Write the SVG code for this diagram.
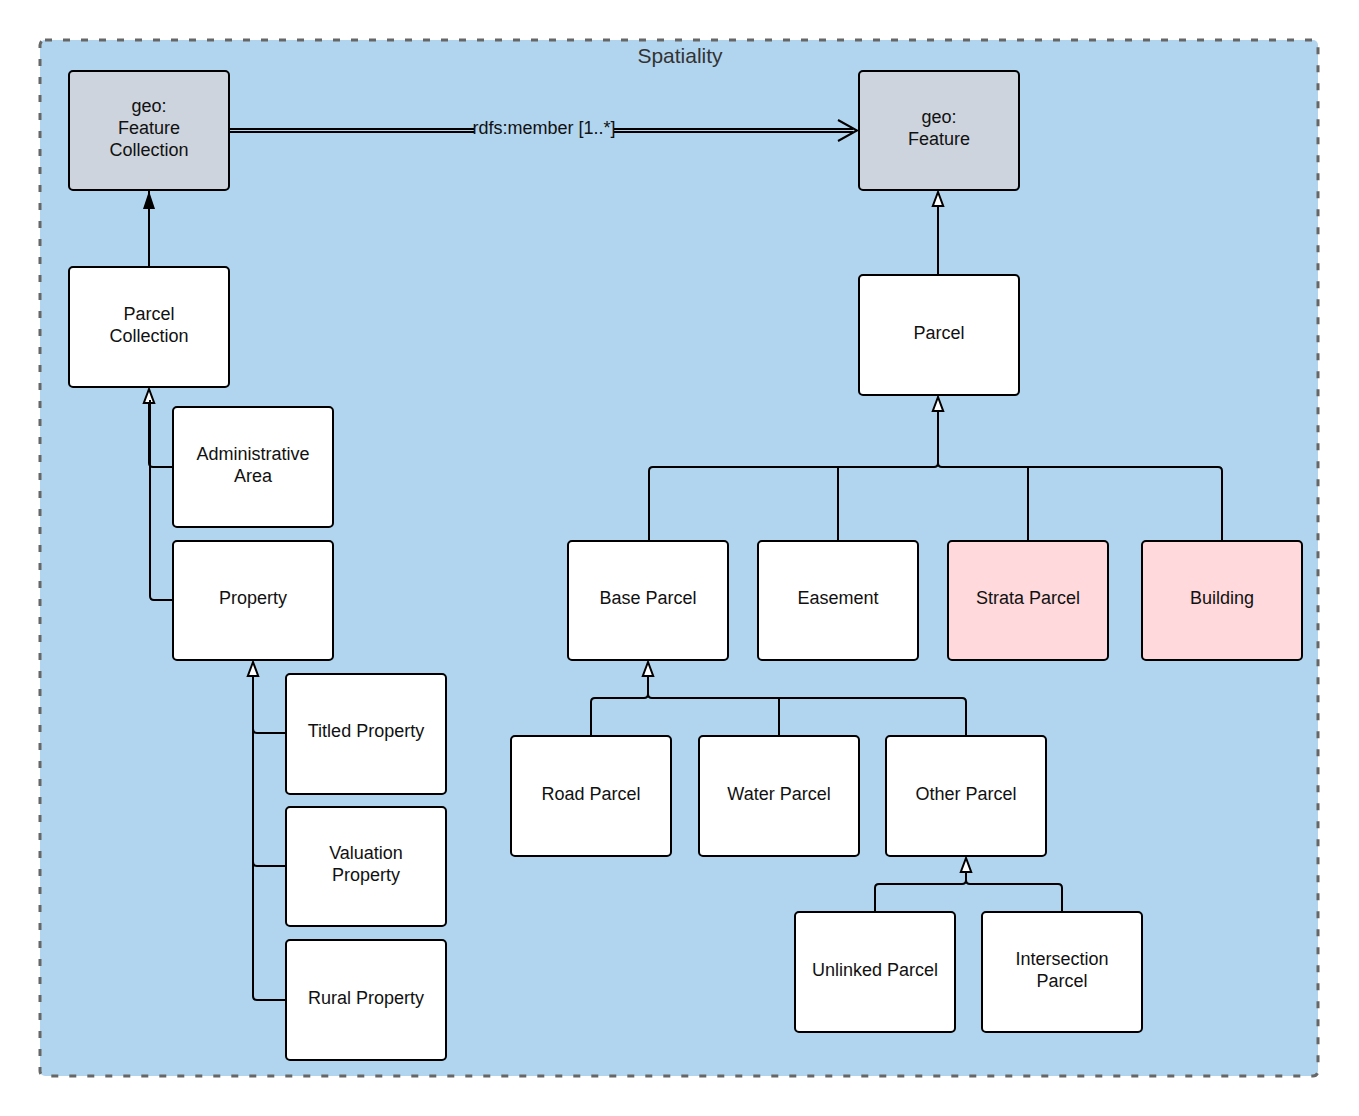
<svg xmlns="http://www.w3.org/2000/svg" width="1359" height="1116" viewBox="0 0 1359 1116">
<defs>
<style>
.node rect{stroke:#000;stroke-width:2;fill:#fff}
.node.geo rect{fill:#cdd4dd}
.node.pink rect{fill:#ffd9dc}
text{font-family:"Liberation Sans",Arial,sans-serif;font-size:18px;fill:#111;text-anchor:middle}
.conn path{fill:none;stroke:#000;stroke-width:2}
</style>
<marker id="hollow" markerWidth="18" markerHeight="14" refX="16" refY="7" orient="auto" markerUnits="userSpaceOnUse" viewBox="0 0 18 14">
<path d="M16 7 L2 1.8 L2 12.2 Z" fill="#fff" stroke="#000" stroke-width="2" stroke-linejoin="miter"/>
</marker>
<marker id="solid" markerWidth="18" markerHeight="14" refX="18" refY="7" orient="auto" markerUnits="userSpaceOnUse" viewBox="0 0 18 14">
<path d="M18 7 L0 1 L0 13 Z" fill="#000"/>
</marker>
</defs>
<rect x="0" y="0" width="1359" height="1116" fill="#fff"/>
<g id="container">
<rect x="40" y="40" width="1278" height="1036" rx="5" fill="#b2d5ef" stroke="#666" stroke-width="3" stroke-dasharray="7 11"/>
<text x="680" y="63" style="font-size:21px;fill:#333">Spatiality</text>
</g>
<g class="conn" id="connectors">
<path d="M229 129 H853 M229 132 H853" stroke-width="1.6"/>
<path d="M838 120 L857 130.5 L838 141" stroke-width="2.2"/>
<rect x="474" y="120" width="140" height="20" fill="#b2d5ef"/>
<text x="544" y="134">rdfs:member [1..*]</text>
<path d="M149 267 V191" marker-end="url(#solid)"/>
<path d="M173 467 H153 Q149 467 149 463 V389" marker-end="url(#hollow)"/>
<path d="M173 600 H154 Q150 600 150 596 V400"/>
<path d="M286 733 H257 Q253 733 253 729 V662" marker-end="url(#hollow)"/>
<path d="M286 866 H257 Q253 866 253 862 V700"/>
<path d="M286 1000 H257 Q253 1000 253 996 V800"/>
<path d="M938 275 V192" marker-end="url(#hollow)"/>
<path d="M649 541 V471 Q649 467 653 467 H934 Q938 467 938 463 V397" marker-end="url(#hollow)"/>
<path d="M838 541 V467"/>
<path d="M1028 541 V467"/>
<path d="M1222 541 V471 Q1222 467 1218 467 H942 Q938 467 938 463"/>
<path d="M591 736 V702 Q591 698 595 698 H644 Q648 698 648 694 V662" marker-end="url(#hollow)"/>
<path d="M779 736 V698"/>
<path d="M966 736 V702 Q966 698 962 698 H652 Q648 698 648 694"/>
<path d="M875 912 V888 Q875 884 879 884 H962 Q966 884 966 880 V858" marker-end="url(#hollow)"/>
<path d="M1062 912 V888 Q1062 884 1058 884 H970 Q966 884 966 880"/>
</g>
<g class="node geo" id="geo-feature-collection"><rect x="69" y="71" width="160" height="119" rx="4"/><text x="149" y="112">geo:</text><text x="149" y="134">Feature</text><text x="149" y="156">Collection</text></g>
<g class="node geo" id="geo-feature"><rect x="859" y="71" width="160" height="119" rx="4"/><text x="939" y="123">geo:</text><text x="939" y="145">Feature</text></g>
<g class="node" id="parcel-collection"><rect x="69" y="267" width="160" height="120" rx="4"/><text x="149" y="320">Parcel</text><text x="149" y="342">Collection</text></g>
<g class="node" id="administrative-area"><rect x="173" y="407" width="160" height="120" rx="4"/><text x="253" y="460">Administrative</text><text x="253" y="482">Area</text></g>
<g class="node" id="property"><rect x="173" y="541" width="160" height="119" rx="4"/><text x="253" y="604">Property</text></g>
<g class="node" id="titled-property"><rect x="286" y="674" width="160" height="120" rx="4"/><text x="366" y="737">Titled Property</text></g>
<g class="node" id="valuation-property"><rect x="286" y="807" width="160" height="119" rx="4"/><text x="366" y="859">Valuation</text><text x="366" y="881">Property</text></g>
<g class="node" id="rural-property"><rect x="286" y="940" width="160" height="120" rx="4"/><text x="366" y="1004">Rural Property</text></g>
<g class="node" id="parcel"><rect x="859" y="275" width="160" height="120" rx="4"/><text x="939" y="339">Parcel</text></g>
<g class="node" id="base-parcel"><rect x="568" y="541" width="160" height="119" rx="4"/><text x="648" y="604">Base Parcel</text></g>
<g class="node" id="easement"><rect x="758" y="541" width="160" height="119" rx="4"/><text x="838" y="604">Easement</text></g>
<g class="node pink" id="strata-parcel"><rect x="948" y="541" width="160" height="119" rx="4"/><text x="1028" y="604">Strata Parcel</text></g>
<g class="node pink" id="building"><rect x="1142" y="541" width="160" height="119" rx="4"/><text x="1222" y="604">Building</text></g>
<g class="node" id="road-parcel"><rect x="511" y="736" width="160" height="120" rx="4"/><text x="591" y="800">Road Parcel</text></g>
<g class="node" id="water-parcel"><rect x="699" y="736" width="160" height="120" rx="4"/><text x="779" y="800">Water Parcel</text></g>
<g class="node" id="other-parcel"><rect x="886" y="736" width="160" height="120" rx="4"/><text x="966" y="800">Other Parcel</text></g>
<g class="node" id="unlinked-parcel"><rect x="795" y="912" width="160" height="120" rx="4"/><text x="875" y="976">Unlinked Parcel</text></g>
<g class="node" id="intersection-parcel"><rect x="982" y="912" width="160" height="120" rx="4"/><text x="1062" y="965">Intersection</text><text x="1062" y="987">Parcel</text></g>
</svg>
